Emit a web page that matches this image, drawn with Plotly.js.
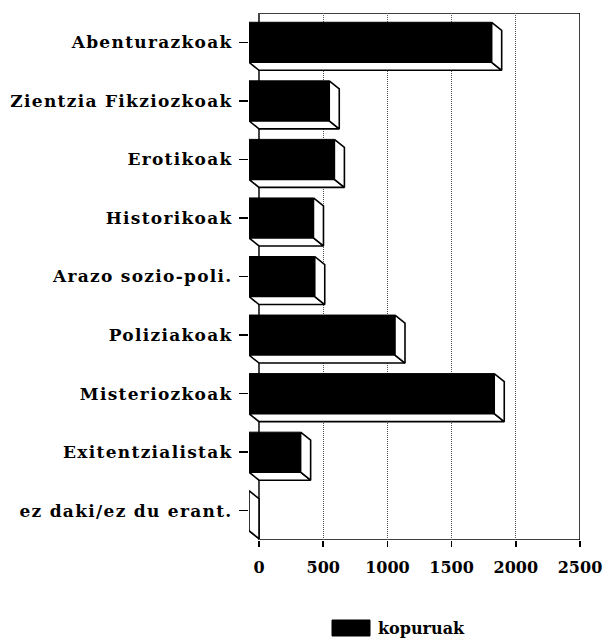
<!DOCTYPE html>
<html>
<head>
<meta charset="utf-8">
<script src="https://cdn.plot.ly/plotly-3.0.1.min.js"></script>
<style>
html,body{margin:0;padding:0;background:#fff;}
#chart{width:608px;height:641px;}
#chart .ytick text{letter-spacing:1.3px;}
</style>
</head>
<body>
<div id="chart"></div>
<script>
// ---- data ----
var categories = ['Abenturazkoak','Zientzia Fikziozkoak','Erotikoak','Historikoak','Arazo sozio-poli.','Poliziakoak','Misteriozkoak','Exitentzialistak','ez daki/ez du erant.'];
var kopuruak = [1890, 625, 665, 502, 512, 1137, 1910, 402, 0];
var xTicks = [0, 500, 1000, 1500, 2000, 2500];
var seriesName = 'kopuruak';

// ---- 3D look (depth in axis units) ----
var DX = 78;      // depth along value axis
var DY = 0.137;   // depth along category axis
var H = 0.3415;   // half bar thickness

var idx = categories.map(function(_, i){ return i; });

var bottomX = [], bottomY = [], sideX = [], sideY = [];
kopuruak.forEach(function(v, i){
  bottomX.push(-DX, v - DX, v, 0, -DX, null);
  bottomY.push(i + H, i + H, i + H + DY, i + H + DY, i + H, null);
  sideX.push(v - DX, v, v, v - DX, v - DX, null);
  sideY.push(i - H, i - H + DY, i + H + DY, i + H, i - H, null);
});

var font = {family: '"DejaVu Serif", serif', size: 16, color: '#000', weight: 'bold'};
var yfont = {family: '"DejaVu Serif", serif', size: 17, color: '#000', weight: 'bold'};

var traces = [
  {type: 'scatter', mode: 'lines', x: bottomX, y: bottomY, fill: 'toself', fillcolor: '#fff',
   line: {color: '#000', width: 1.6}, hoverinfo: 'skip', showlegend: false},
  {type: 'scatter', mode: 'lines', x: sideX, y: sideY, fill: 'toself', fillcolor: '#fff',
   line: {color: '#000', width: 1.6}, hoverinfo: 'skip', showlegend: false},
  {type: 'bar', orientation: 'h', name: seriesName, y: idx, x: kopuruak,
   base: kopuruak.map(function(){ return -DX; }), width: 2 * H,
   marker: {color: '#000', line: {color: '#000', width: 1}}, showlegend: false}
];

function px2paperX(px){ return (px - 249) / 331; }
function px2paperY(py){ return (540 - py) / 527; }

var layout = {
  width: 608, height: 641,
  margin: {l: 249, r: 28, t: 13, b: 101},
  paper_bgcolor: '#fff', plot_bgcolor: '#fff',
  font: font,
  showlegend: false,
  xaxis: {
    range: [-DX, 2500], tickvals: xTicks, ticktext: xTicks.map(String),
    ticks: 'outside', ticklen: 6, tickwidth: 1.5, tickcolor: '#000',
    showgrid: true, gridcolor: '#555', griddash: '1px,1px', gridwidth: 1,
    zeroline: false, showline: false, ticklabelstandoff: 7,
    tickfont: font, fixedrange: true
  },
  yaxis: {
    range: [8.5, -0.5], tickvals: idx, ticktext: categories,
    ticks: 'outside', ticklen: 9, tickwidth: 1.5, tickcolor: '#000',
    showgrid: false, zeroline: false, showline: false, ticklabelstandoff: 3,
    tickfont: yfont, fixedrange: true
  },
  shapes: [
    {type: 'rect', xref: 'x', yref: 'y', x0: 0, x1: 2500, y0: -0.5, y1: 8.5,
     line: {color: '#000', width: 1.5}, layer: 'below'},
    {type: 'rect', xref: 'paper', yref: 'paper',
     x0: px2paperX(332), x1: px2paperX(370), y0: px2paperY(636), y1: px2paperY(620),
     fillcolor: '#000', line: {color: '#000', width: 1}}
  ],
  annotations: [
    {xref: 'paper', yref: 'paper', x: px2paperX(376), y: px2paperY(628),
     xanchor: 'left', yanchor: 'middle', text: seriesName, showarrow: false, font: font}
  ]
};

Plotly.newPlot('chart', traces, layout, {displayModeBar: false, staticPlot: true});
</script>
</body>
</html>
